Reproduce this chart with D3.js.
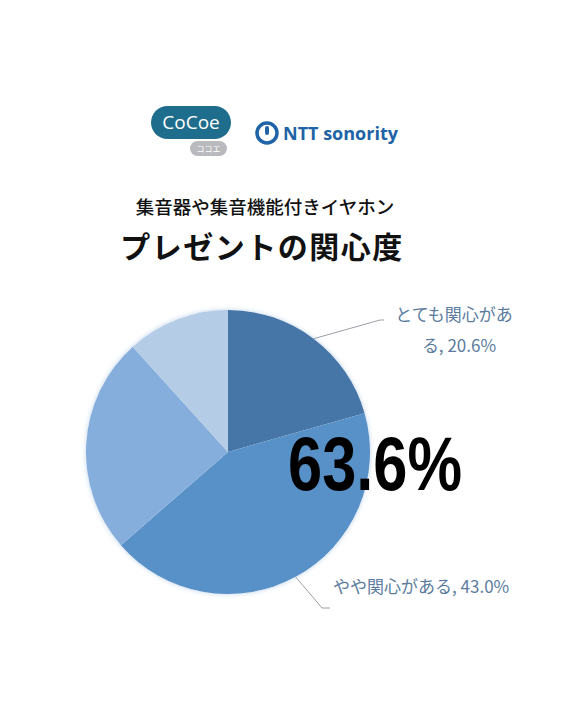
<!DOCTYPE html>
<html><head><meta charset="utf-8">
<script src="https://cdn.jsdelivr.net/npm/d3@7"></script>
<style>body{margin:0;background:#fff;}svg{display:block;}</style>
</head><body>
<script>
const categories = ["とても関心がある", "やや関心がある", "あまり関心がない", "全く関心がない"];
const values = [20.6, 43.0, 24.7, 11.7];
const colors = ["#4676a8", "#5890c8", "#86aedc", "#b5cce7"];
const subtitle = "集音器や集音機能付きイヤホン";
const title = "プレゼントの関心度";
const bigValue = "63.6%";

const W = 565, H = 720;
const svg = d3.select("body").append("svg").attr("width", W).attr("height", H);
const jp = "'Noto Sans CJK JP', 'Noto Sans', sans-serif";

// logos
const logo = svg.append("g");
logo.append("rect").attr("x", 151).attr("y", 106).attr("width", 80).attr("height", 33).attr("rx", 16.5).attr("fill", "#1f6d8c");
logo.append("text").attr("x", 191).attr("y", 129).attr("text-anchor", "middle").attr("fill", "#fff")
  .attr("font-family", "'Open Sans', sans-serif").attr("font-size", 19).text("CoCoe");
logo.append("rect").attr("x", 190).attr("y", 141).attr("width", 37).attr("height", 15).attr("rx", 7.5).attr("fill", "#b8babd");
logo.append("text").attr("x", 208.5).attr("y", 152).attr("text-anchor", "middle").attr("fill", "#fff")
  .attr("font-family", jp).attr("font-size", 8).text("ココエ");
logo.append("circle").attr("cx", 267).attr("cy", 133).attr("r", 10).attr("fill", "none").attr("stroke", "#2063a6").attr("stroke-width", 3.5);
logo.append("rect").attr("x", 265).attr("y", 126).attr("width", 4).attr("height", 9).attr("rx", 2).attr("fill", "#2063a6");
logo.append("text").attr("x", 283).attr("y", 140).attr("fill", "#2063a6")
  .attr("font-family", "'Open Sans', sans-serif").attr("font-weight", 700).attr("font-size", 18).text("NTT sonority");

// titles
svg.append("text").attr("x", 265).attr("y", 214).attr("text-anchor", "middle")
  .attr("font-family", jp).attr("font-weight", 500).attr("font-size", 18.5).attr("fill", "#111").text(subtitle);
svg.append("text").attr("x", 262).attr("y", 258).attr("text-anchor", "middle")
  .attr("font-family", jp).attr("font-weight", 700).attr("font-size", 30).attr("letter-spacing", 1.5).attr("fill", "#111").text(title);

// pie
const cx = 228, cy = 452, R = 142;
const defs = svg.append("defs");
const f = defs.append("filter").attr("id", "glow").attr("x", "-20%").attr("y", "-20%").attr("width", "140%").attr("height", "140%");
f.append("feDropShadow").attr("dx", 0).attr("dy", 0).attr("stdDeviation", 2.5).attr("flood-color", "#6c9bd0").attr("flood-opacity", 0.45);

const pie = d3.pie().sort(null).value(d => d)(values);
const arc = d3.arc().innerRadius(0).outerRadius(R);
const g = svg.append("g").attr("transform", `translate(${cx},${cy})`);
g.append("circle").attr("r", R).attr("fill", "#fff").attr("filter", "url(#glow)");
g.selectAll("path").data(pie).join("path").attr("d", arc).attr("fill", (d, i) => colors[i]);

// leader lines
const lineCol = "#9aa0a6";
const a0 = pie[0].startAngle + (pie[0].endAngle - pie[0].startAngle) * 0.5;
const s0 = [cx + R * Math.sin(a0), cy - R * Math.cos(a0)];
svg.append("polyline").attr("points", [s0, [380, 320], [384, 320]].map(p => p.join(",")).join(" "))
  .attr("fill", "none").attr("stroke", lineCol).attr("stroke-width", 1);
const a1 = pie[1].startAngle + (pie[1].endAngle - pie[1].startAngle) * 0.5;
const s1 = [cx + R * Math.sin(a1), cy - R * Math.cos(a1)];
svg.append("polyline").attr("points", [s1, [322, 608], [330, 608]].map(p => p.join(",")).join(" "))
  .attr("fill", "none").attr("stroke", lineCol).attr("stroke-width", 1);

const labCol = "#5b7c9e";
svg.append("text").attr("x", 454).attr("y", 321).attr("text-anchor", "middle").attr("font-family", jp)
  .attr("font-size", 17).attr("fill", labCol).text("とても関心があ");
svg.append("text").attr("x", 459).attr("y", 352).attr("text-anchor", "middle").attr("font-family", jp)
  .attr("font-size", 17).attr("fill", labCol).text("る, " + values[0].toFixed(1) + "%");
svg.append("text").attr("x", 333).attr("y", 593).attr("font-family", jp)
  .attr("font-size", 17).attr("fill", labCol).text(categories[1] + ", " + values[1].toFixed(1) + "%");

// big number
svg.append("text").attr("x", 288).attr("y", 490)
  .attr("font-family", "'Liberation Sans Narrow', 'Liberation Sans', sans-serif").attr("font-weight", 700)
  .attr("font-size", 76).attr("textLength", 174).attr("lengthAdjust", "spacingAndGlyphs")
  .attr("fill", "#000").text(bigValue);
</script>
</body></html>
